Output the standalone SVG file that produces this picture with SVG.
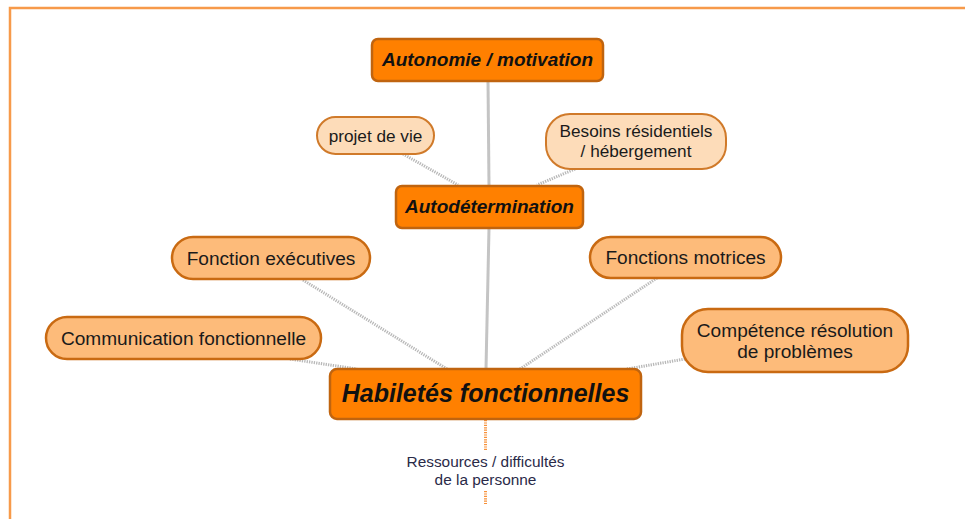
<svg xmlns="http://www.w3.org/2000/svg" width="965" height="519" viewBox="0 0 965 519">
<style>
.main{fill:#ff8000;stroke:#c0640f;stroke-width:2.5}
.sub{fill:#fdbb7a;stroke:#c96a12;stroke-width:2.5}
.lite{fill:#fddcb9;stroke:#d07a2a;stroke-width:2}
.tm{font-family:"Liberation Sans",Arial,sans-serif;font-weight:bold;font-style:italic;fill:#111;text-anchor:middle}
.ts{font-family:"Liberation Sans",Arial,sans-serif;fill:#1a1a1a;text-anchor:middle}
.t20{font-size:19.1px}
.t16{font-size:17.2px}
.t13{font-size:15.4px;fill:#2a2a48}
.solid{stroke:#c4c4c4;stroke-width:3;fill:none}
.dot{stroke:#b8b8b8;stroke-width:3;stroke-dasharray:1.3 1.1;fill:none}
.odot{stroke:#f7913a;stroke-width:3;stroke-dasharray:1.2 1.2;fill:none}
</style>
<rect width="965" height="519" fill="#fff"/>
<path d="M10 519 V8 H965" stroke="#f79a4a" stroke-width="2.5" fill="none"/>
<g id="connectors">
<line class="solid" x1="488" y1="81" x2="489" y2="186"/>
<line class="solid" x1="489" y1="228" x2="486" y2="369"/>
<line class="dot" x1="403" y1="154" x2="458" y2="185"/>
<line class="dot" x1="575" y1="169" x2="537" y2="185"/>
<line class="dot" x1="303" y1="280" x2="447" y2="369"/>
<line class="dot" x1="290" y1="359" x2="357" y2="369"/>
<line class="dot" x1="657" y1="278" x2="520" y2="369"/>
<line class="dot" x1="685" y1="359" x2="627" y2="369"/>
<line class="odot" x1="485.5" y1="420" x2="485.5" y2="451"/>
<line class="odot" x1="485.5" y1="491" x2="485.5" y2="504"/>
</g>
<g id="autonomie">
<rect class="main" x="372" y="39" width="231" height="42" rx="6"/>
<text class="tm" x="487.5" y="66" font-size="19">Autonomie / motivation</text>
</g>
<g id="projet">
<rect class="lite" x="317" y="117" width="117" height="37" rx="18.5"/>
<text class="ts t16" x="375.5" y="142">projet de vie</text>
</g>
<g id="besoins">
<rect class="lite" x="546" y="114" width="180" height="55" rx="24"/>
<text class="ts t16" x="636" y="137">Besoins résidentiels</text>
<text class="ts t16" x="636" y="157">/ hébergement</text>
</g>
<g id="autodetermination">
<rect class="main" x="396" y="186" width="187" height="42" rx="6"/>
<text class="tm" x="489.5" y="213" font-size="19">Autodétermination</text>
</g>
<g id="executives">
<rect class="sub" x="172" y="237" width="198" height="42" rx="21"/>
<text class="ts t20" x="271" y="265">Fonction exécutives</text>
</g>
<g id="motrices">
<rect class="sub" x="590" y="237" width="191" height="41" rx="20.5"/>
<text class="ts t20" x="685.5" y="264">Fonctions motrices</text>
</g>
<g id="communication">
<rect class="sub" x="46" y="317" width="275" height="42" rx="21"/>
<text class="ts t20" x="183.5" y="345">Communication fonctionnelle</text>
</g>
<g id="competence">
<rect class="sub" x="682" y="309" width="226" height="63" rx="26"/>
<text class="ts t20" x="795" y="337">Compétence résolution</text>
<text class="ts t20" x="795" y="358">de problèmes</text>
</g>
<g id="habiletes">
<rect class="main" x="330" y="369" width="311" height="50" rx="7"/>
<text class="tm" x="485.5" y="402" font-size="25">Habiletés fonctionnelles</text>
</g>
<g id="ressources">
<text class="ts t13" x="485.5" y="467">Ressources / difficultés</text>
<text class="ts t13" x="485.5" y="485">de la personne</text>
</g>
</svg>
